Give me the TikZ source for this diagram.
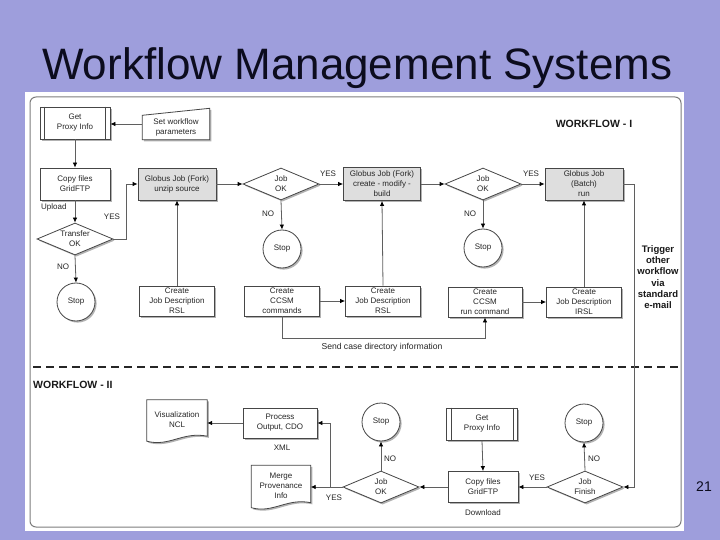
\documentclass[tikz,border=0pt]{standalone}
\usepackage{fontspec}
\setmainfont{Liberation Sans}
\usetikzlibrary{arrows.meta,shapes.geometric,shadows,calc}
\pgfdeclarelayer{back}
\pgfdeclarelayer{bg}
\pgfsetlayers{back,bg,main}
\definecolor{slidebg}{RGB}{158,158,220}
\definecolor{titlecol}{RGB}{12,12,30}
\definecolor{edgecol}{RGB}{70,70,70}
\definecolor{linecol}{RGB}{95,95,95}
\definecolor{forkfill}{RGB}{222,222,222}
\definecolor{panelborder}{RGB}{125,125,125}
\tikzset{
  txt/.style={font=\fontsize{8}{10}\selectfont, align=center, text=black!85},
  shad/.style={drop shadow={shadow xshift=1.6pt, shadow yshift=-1.6pt, opacity=0.3, fill=black}},
  box/.style={txt, rectangle, draw=edgecol, line width=0.8pt, fill=white, inner sep=1pt, shad},
  graybox/.style={box, fill=forkfill},
  dia/.style={txt, diamond, draw=edgecol, line width=0.8pt, fill=white, aspect=2.45, inner sep=-3pt, minimum width=76pt, minimum height=32pt, shad},
  stopc/.style={txt, circle, draw=edgecol, line width=0.8pt, fill=white, minimum size=38pt, inner sep=0pt, shad},
  plain/.style={txt, draw=none, inner sep=0pt},
  outline/.style={draw=edgecol, line width=0.8pt, fill=white, shad},
  arr/.style={draw=linecol, line width=0.8pt, -{Latex[length=5pt,width=4.5pt,color=black]}},
  ln/.style={draw=linecol, line width=0.8pt},
  lbl/.style={font=\fontsize{8}{10}\selectfont, text=black!85, inner sep=0pt},
  boldlbl/.style={font=\bfseries\fontsize{10.5}{12}\selectfont, inner sep=0pt, text=black!90},
}
\begin{document}
\begin{tikzpicture}[x=1pt, y=-1pt]
\useasboundingbox (0,0) rectangle (720,540);
\begin{pgfonlayer}{back}
\fill[slidebg] (0,0) rectangle (720,540);
\fill[white] (25,92) rectangle (684,531);
\draw[panelborder, line width=1pt, rounded corners=6pt] (30,97) rectangle (681,527);
\end{pgfonlayer}
\node[anchor=base west, font=\fontsize{44}{50}\selectfont, text=titlecol, inner sep=0pt] (title) at (42,80) {Workflow Management Systems};

% ---------------- WORKFLOW I ----------------
\node[boldlbl] (wf1) at (594,124) {WORKFLOW - I};

\node[box, minimum width=70pt, minimum height=32pt] (gp1) at (75,123) {Get\\Proxy Info};
\draw[edgecol, line width=0.8pt] ([xshift=5pt]gp1.north west) -- ([xshift=5pt]gp1.south west);
\draw[edgecol, line width=0.8pt] ([xshift=-5pt]gp1.north east) -- ([xshift=-5pt]gp1.south east);

\node[plain, minimum width=67pt, minimum height=31pt] (setwf) at (176,127) {Set workflow\\parameters};
\begin{pgfonlayer}{bg}
\path[outline] ([yshift=-4pt]setwf.north west) -- ([yshift=3pt]setwf.north east) -- ([yshift=3pt]setwf.south east) -- ([yshift=3pt]setwf.south west) -- cycle;
\end{pgfonlayer}

\node[box, minimum width=70pt, minimum height=32pt] (cp1) at (75,184) {Copy files\\GridFTP};
\node[lbl, anchor=west] (upl) at (41,207) {Upload};
\node[dia] (tok) at (75,239) {Transfer\\OK};
\node[stopc] (stop1) at (76,302) {Stop};

\node[graybox, minimum width=78pt, minimum height=32pt] (fork1) at (177,184) {Globus Job (Fork)\\unzip source};
\node[dia] (jok1) at (281,184) {Job\\OK};
\node[stopc] (stop2) at (282,249) {Stop};
\node[graybox, minimum width=77pt, minimum height=33pt] (fork2) at (382,184) {Globus Job (Fork)\\create - modify -\\build};
\node[dia] (jok2) at (483,184) {Job\\OK};
\node[stopc] (stop3) at (483,248) {Stop};
\node[graybox, minimum width=78pt, minimum height=32pt] (batch) at (584,184) {Globus Job\\(Batch)\\run};

\node[box, minimum width=75pt, minimum height=30pt] (rsl1) at (177,301) {Create\\Job Description\\RSL};
\node[box, minimum width=75pt, minimum height=30pt] (ccsm) at (282,301) {Create\\CCSM\\commands};
\node[box, minimum width=75pt, minimum height=30pt] (rsl2) at (383,301) {Create\\Job Description\\RSL};
\node[box, minimum width=74pt, minimum height=30pt] (ccsmrun) at (485,302) {Create\\CCSM\\run command};
\node[box, minimum width=75pt, minimum height=30pt] (irsl) at (584,302) {Create\\Job Description\\IRSL};

\node[font=\bfseries\fontsize{9.5}{11.3}\selectfont, align=center, inner sep=0pt, text=black!90] (trig) at (658,277) {Trigger\\other\\workflow\\via\\standard\\e-mail};

% connectors WF I
\draw[arr] ([yshift=3pt]setwf.west) -- ([yshift=3pt]setwf.west -| gp1.east);
\draw[arr] (gp1.south) -- (cp1.north);
\draw[arr] (cp1.south) -- (tok.north);
\draw[arr] (tok.east) -- ++(13,0) |- (fork1.west);
\node[lbl] (yes1) at (112,217) {YES};
\draw[arr] (tok.south) -- (stop1.north);
\node[lbl] (no1) at (63,267) {NO};
\draw[arr] (fork1.east) -- (jok1.west);
\draw[arr] (jok1.east) -- (fork2.west);
\node[lbl] (yes2) at (328,174) {YES};
\draw[arr] (jok1.south) -- (stop2.north);
\node[lbl] (no2) at (268,214) {NO};
\draw[arr] (fork2.east) -- (jok2.west);
\draw[arr] (jok2.east) -- (batch.west);
\node[lbl] (yes3) at (531,174) {YES};
\draw[arr] (jok2.south) -- (stop3.north);
\node[lbl] (no3) at (470,214) {NO};
\draw[arr] (rsl1.north) -- (fork1.south);
\draw[arr] (ccsm.east) -- (rsl2.west);
\draw[arr] (rsl2.north) -- (fork2.south);
\draw[arr] (ccsm.south) -- ++(0,22) -| (ccsmrun.south);
\node[lbl, font=\fontsize{8.6}{10}\selectfont] (send) at (382,347) {Send case directory information};
\draw[arr] (ccsmrun.east) -- (irsl.west);
\draw[arr] (irsl.north) -- (batch.south);

% dashed separator
\draw[black!85, line width=1.4pt, dash pattern=on 8pt off 5pt] (33,367) -- (679,367);

% ---------------- WORKFLOW II ----------------
\node[boldlbl, anchor=west] (wf2) at (33,385) {WORKFLOW - II};

\node[plain, minimum width=60pt, minimum height=40pt] (vis) at (177,420) {\raisebox{1pt}{\begin{tabular}{@{}c@{}}Visualization\\NCL\end{tabular}}};
\begin{pgfonlayer}{bg}
\path[outline] (vis.north west) -- (vis.north east) -- ([yshift=4pt]vis.south east) .. controls ($(vis.south)+(6,-9)$) and ($(vis.south)+(-8,7)$) .. ([yshift=-1pt]vis.south west) -- cycle;
\end{pgfonlayer}

\node[box, minimum width=74pt, minimum height=30pt] (pr) at (280,423) {Process\\Output, CDO};
\node[lbl] (xml) at (282,448) {XML};

\node[plain, minimum width=59pt, minimum height=41pt] (mg) at (281,486) {\raisebox{0pt}{\begin{tabular}{@{}c@{}}Merge\\Provenance\\Info\end{tabular}}};
\begin{pgfonlayer}{bg}
\path[outline] (mg.north west) -- (mg.north east) -- ([yshift=4pt]mg.south east) .. controls ($(mg.south)+(6,-9)$) and ($(mg.south)+(-8,7)$) .. ([yshift=-1pt]mg.south west) -- cycle;
\end{pgfonlayer}

\node[dia] (jo3) at (381,487) {Job\\OK};
\node[stopc] (stop4) at (381,422) {Stop};
\node[box, minimum width=70pt, minimum height=31pt] (cp2) at (483,487) {Copy files\\GridFTP};
\node[lbl] (dl) at (483,513) {Download};
\node[box, minimum width=71pt, minimum height=32pt] (gp2) at (482,424) {Get\\Proxy Info};
\draw[edgecol, line width=0.8pt] ([xshift=5pt]gp2.north west) -- ([xshift=5pt]gp2.south west);
\draw[edgecol, line width=0.8pt] ([xshift=-5pt]gp2.north east) -- ([xshift=-5pt]gp2.south east);
\node[dia] (jf) at (585,487) {Job\\Finish};
\node[stopc] (stop5) at (584,423) {Stop};

% connectors WF II
\draw[arr] (batch.east) -- ++(11,0) |- (jf.east);
\draw[arr] (jf.west) -- (cp2.east);
\node[lbl] (yes5) at (537,478) {YES};
\draw[arr] (jf.north) -- (stop5.south);
\node[lbl] (no5) at (594,459) {NO};
\draw[arr] (gp2.south) -- (cp2.north);
\draw[arr] (cp2.west) -- (jo3.east);
\draw[arr] (jo3.north) -- (stop4.south);
\node[lbl] (no4) at (390,459) {NO};
\draw[arr] (jo3.west) -- (jo3.west -| mg.east);
\coordinate (split) at ($(jo3.west)+(-12,0)$);
\draw[arr] (split) |- (pr.east);
\node[lbl] (yes4) at (334,498) {YES};
\draw[arr] (pr.west) -- (pr.west -| vis.east);

\node[font=\fontsize{14}{16}\selectfont, text=titlecol, inner sep=0pt] (pg) at (704,487) {21};
\end{tikzpicture}
\end{document}
